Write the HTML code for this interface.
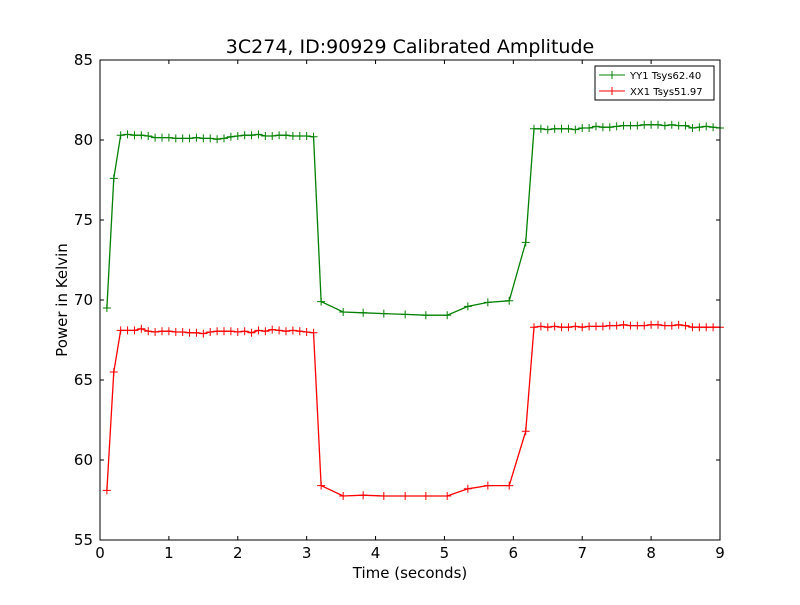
<!DOCTYPE html>
<html><head><meta charset="utf-8"><style>
body{margin:0;background:#fff;}
svg text{font-family:"DejaVu Sans","Liberation Sans",sans-serif;}
</style></head><body>
<svg id="chart" width="800" height="600" xmlns="http://www.w3.org/2000/svg">
<rect width="800" height="600" fill="#fff"/>
<text x="410" y="53" font-size="19" text-anchor="middle">3C274, ID:90929 Calibrated Amplitude</text>
<g id="plot"></g>
<rect x="100" y="60" width="620" height="480" fill="none" stroke="#000" stroke-width="1"/>
<text x="410" y="578" font-size="15" text-anchor="middle">Time (seconds)</text>
<text x="67" y="300" font-size="15" text-anchor="middle" transform="rotate(-90 67 300)">Power in Kelvin</text>
<g>
<rect x="595" y="66" width="119" height="34" fill="#fff" stroke="#000" stroke-width="1"/>
<line x1="599" y1="75" x2="625" y2="75" stroke="#008000"/><line x1="612" y1="71" x2="612" y2="79" stroke="#008000"/><line x1="608" y1="75" x2="616" y2="75" stroke="#008000"/>
<text x="630" y="79" font-size="10">YY1 Tsys62.40</text>
<line x1="599" y1="91" x2="625" y2="91" stroke="#f00"/><line x1="612" y1="87" x2="612" y2="95" stroke="#f00"/>
<text x="630" y="95" font-size="10">XX1 Tsys51.97</text>
</g>
</svg>
<script>
const seg1X=[0.1,0.2,0.3,0.4,0.5,0.6,0.7,0.8,0.9,1.0,1.1,1.2,1.3,1.4,1.5,1.6,1.7,1.8,1.9,2.0,2.1,2.2,2.3,2.4,2.5,2.6,2.7,2.8,2.9,3.0,3.1];
const midX=[3.21,3.53,3.82,4.12,4.43,4.73,5.04,5.34,5.63,5.94,6.18];
const seg3X=[6.3,6.4,6.5,6.6,6.7,6.8,6.9,7.0,7.1,7.2,7.3,7.4,7.5,7.6,7.7,7.8,7.9,8.0,8.1,8.2,8.3,8.4,8.5,8.6,8.7,8.8,8.9,9.0];
const timeX=seg1X.concat(midX,seg3X);
const yyValues=[69.5,77.6,80.3,80.35,80.3,80.3,80.25,80.15,80.15,80.15,80.1,80.1,80.1,80.15,80.1,80.1,80.05,80.1,80.2,80.25,80.3,80.3,80.35,80.25,80.25,80.3,80.3,80.25,80.25,80.25,80.2,
69.9,69.25,69.2,69.15,69.1,69.05,69.05,69.6,69.85,69.95,73.6,
80.7,80.7,80.65,80.7,80.7,80.7,80.65,80.75,80.75,80.85,80.8,80.8,80.85,80.9,80.9,80.9,80.95,80.95,80.95,80.9,80.95,80.9,80.9,80.75,80.8,80.85,80.8,80.75];
const xxValues=[58.1,65.5,68.1,68.1,68.1,68.2,68.05,68.0,68.05,68.05,68.0,68.0,67.95,67.95,67.9,68.0,68.05,68.05,68.05,68.0,68.05,67.95,68.1,68.05,68.15,68.1,68.05,68.1,68.05,68.0,67.95,
58.4,57.75,57.8,57.75,57.75,57.75,57.75,58.2,58.4,58.4,61.8,
68.3,68.35,68.3,68.35,68.3,68.3,68.35,68.3,68.35,68.35,68.35,68.4,68.4,68.45,68.4,68.4,68.4,68.45,68.45,68.4,68.4,68.45,68.4,68.3,68.3,68.3,68.3,68.3];
const xTicks=[0,1,2,3,4,5,6,7,8,9];
const yTicks=[55,60,65,70,75,80,85];
const X=v=>100+v/9*620, Y=v=>540-(v-55)/30*480;
const NS="http://www.w3.org/2000/svg";
const g=document.getElementById('plot');
function mk(t,a){const e=document.createElementNS(NS,t);for(const k in a)e.setAttribute(k,a[k]);g.appendChild(e);return e;}
xTicks.forEach(t=>{
 const x=X(t);
 const l=mk('path',{d:`M${x},540v-4M${x},60v4`,stroke:'#000'});
 
 
 const tx=mk('text',{x:x,y:558,'font-size':15,'text-anchor':'middle'});tx.textContent=t;
 
 
});
yTicks.forEach(t=>{
 const y=Y(t);
 const l=mk('path',{d:`M100,${y}h4M720,${y}h-4`,stroke:'#000'});
 
 
 const tx=mk('text',{x:93,y:y+5,'font-size':15,'text-anchor':'end'});tx.textContent=t;
 
 
});
function series(vals,color,name){
 const pts=timeX.map((t,i)=>X(t)+','+Y(vals[i])).join(' ');
 const p=mk('polyline',{points:pts,fill:'none',stroke:color,'stroke-width':1.3});
 
 
 let d='';timeX.forEach((t,i)=>{const x=X(t),y=Y(vals[i]);d+=`M${x-4},${y}h8M${x},${y-4}v8`;});
 const m=mk('path',{d:d,stroke:color,'stroke-width':1});
 
 
}
series(yyValues,'#008000','yy1');
series(xxValues,'#ff0000','xx1');
</script>
</body></html>
